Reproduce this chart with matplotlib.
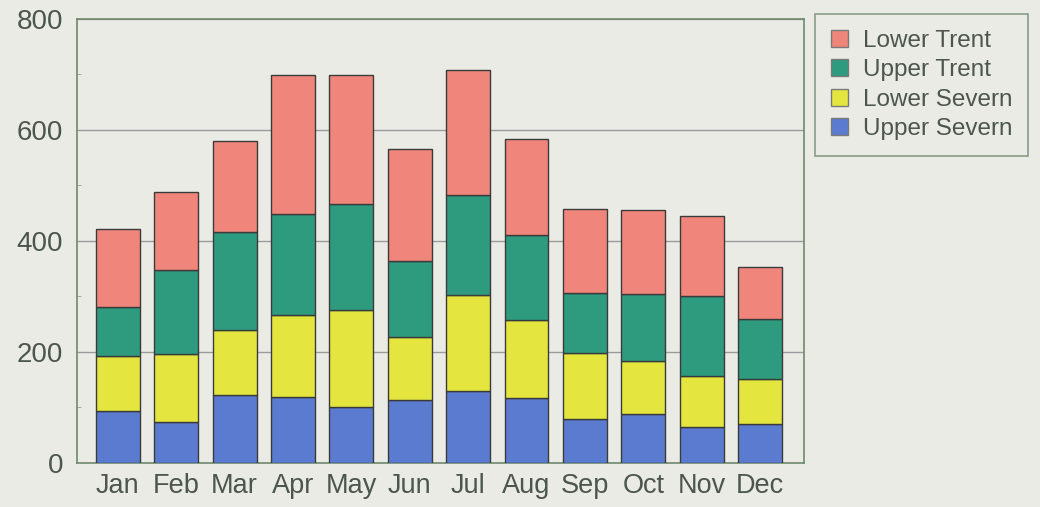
import matplotlib.pyplot as plt
from matplotlib.patches import Patch
from matplotlib.ticker import MultipleLocator

months = ["Jan", "Feb", "Mar", "Apr", "May", "Jun", "Jul", "Aug", "Sep", "Oct", "Nov", "Dec"]
upper_severn = [93, 73, 123, 118, 100, 114, 130, 117, 79, 88, 65, 70]
lower_severn = [100, 124, 117, 149, 175, 112, 173, 140, 119, 96, 92, 82]
upper_trent = [87, 150, 176, 182, 192, 138, 180, 154, 108, 121, 144, 107]
lower_trent = [142, 141, 164, 249, 232, 201, 224, 173, 152, 151, 143, 93]

series = [
    ("Upper Severn", upper_severn, "#5b7bd0"),
    ("Lower Severn", lower_severn, "#e4e53e"),
    ("Upper Trent", upper_trent, "#2e9a7e"),
    ("Lower Trent", lower_trent, "#f0867b"),
]

plt.rcParams["font.family"] = ["Liberation Sans", "DejaVu Sans"]
bg = "#ebebe6"
frame = "#6f8a6f"
txt = "#4c564c"

fig = plt.figure(figsize=(10.4, 5.07), dpi=100, facecolor=bg)
ax = fig.add_axes([0.074, 0.087, 0.699, 0.876], facecolor=bg)

x = range(len(months))
bottom = [0] * len(months)
for name, vals, col in series:
    ax.bar(x, vals, bottom=bottom, width=0.75, color=col, edgecolor="#3a3a3a",
           linewidth=1.0, label=name, zorder=3)
    bottom = [b + v for b, v in zip(bottom, vals)]

ax.set_ylim(0, 800)
ax.set_xlim(-0.70, 11.75)
ax.yaxis.set_major_locator(MultipleLocator(200))
ax.yaxis.set_minor_locator(MultipleLocator(100))
ax.set_xticks(list(x))
ax.set_xticklabels(months)
ax.grid(axis="y", which="major", color="#9a9a9a", linewidth=1.0, zorder=0)
ax.tick_params(axis="y", which="major", length=0, pad=10, labelsize=20, labelcolor=txt)
ax.tick_params(axis="y", which="minor", length=3, direction="in", color="#9a9a9a")
ax.tick_params(axis="x", length=0, pad=7, labelsize=19.5, labelcolor=txt)
for s in ax.spines.values():
    s.set_color(frame)
    s.set_linewidth(1.2)

handles = [Patch(facecolor=c, edgecolor="#7a7a7a", label=n) for n, _, c in reversed(series)]
leg = fig.legend(handles=handles, loc="upper left", bbox_to_anchor=(0.784, 0.972),
                 frameon=True, fancybox=False, fontsize=17.5, labelcolor=txt,
                 handlelength=0.7, handleheight=0.7, handletextpad=0.6,
                 labelspacing=0.3, borderpad=0.65, borderaxespad=0)
leg.get_frame().set_facecolor(bg)
leg.get_frame().set_edgecolor(frame)
leg.get_frame().set_linewidth(1.2)

fig.savefig("out.png", dpi=100, facecolor=bg)
